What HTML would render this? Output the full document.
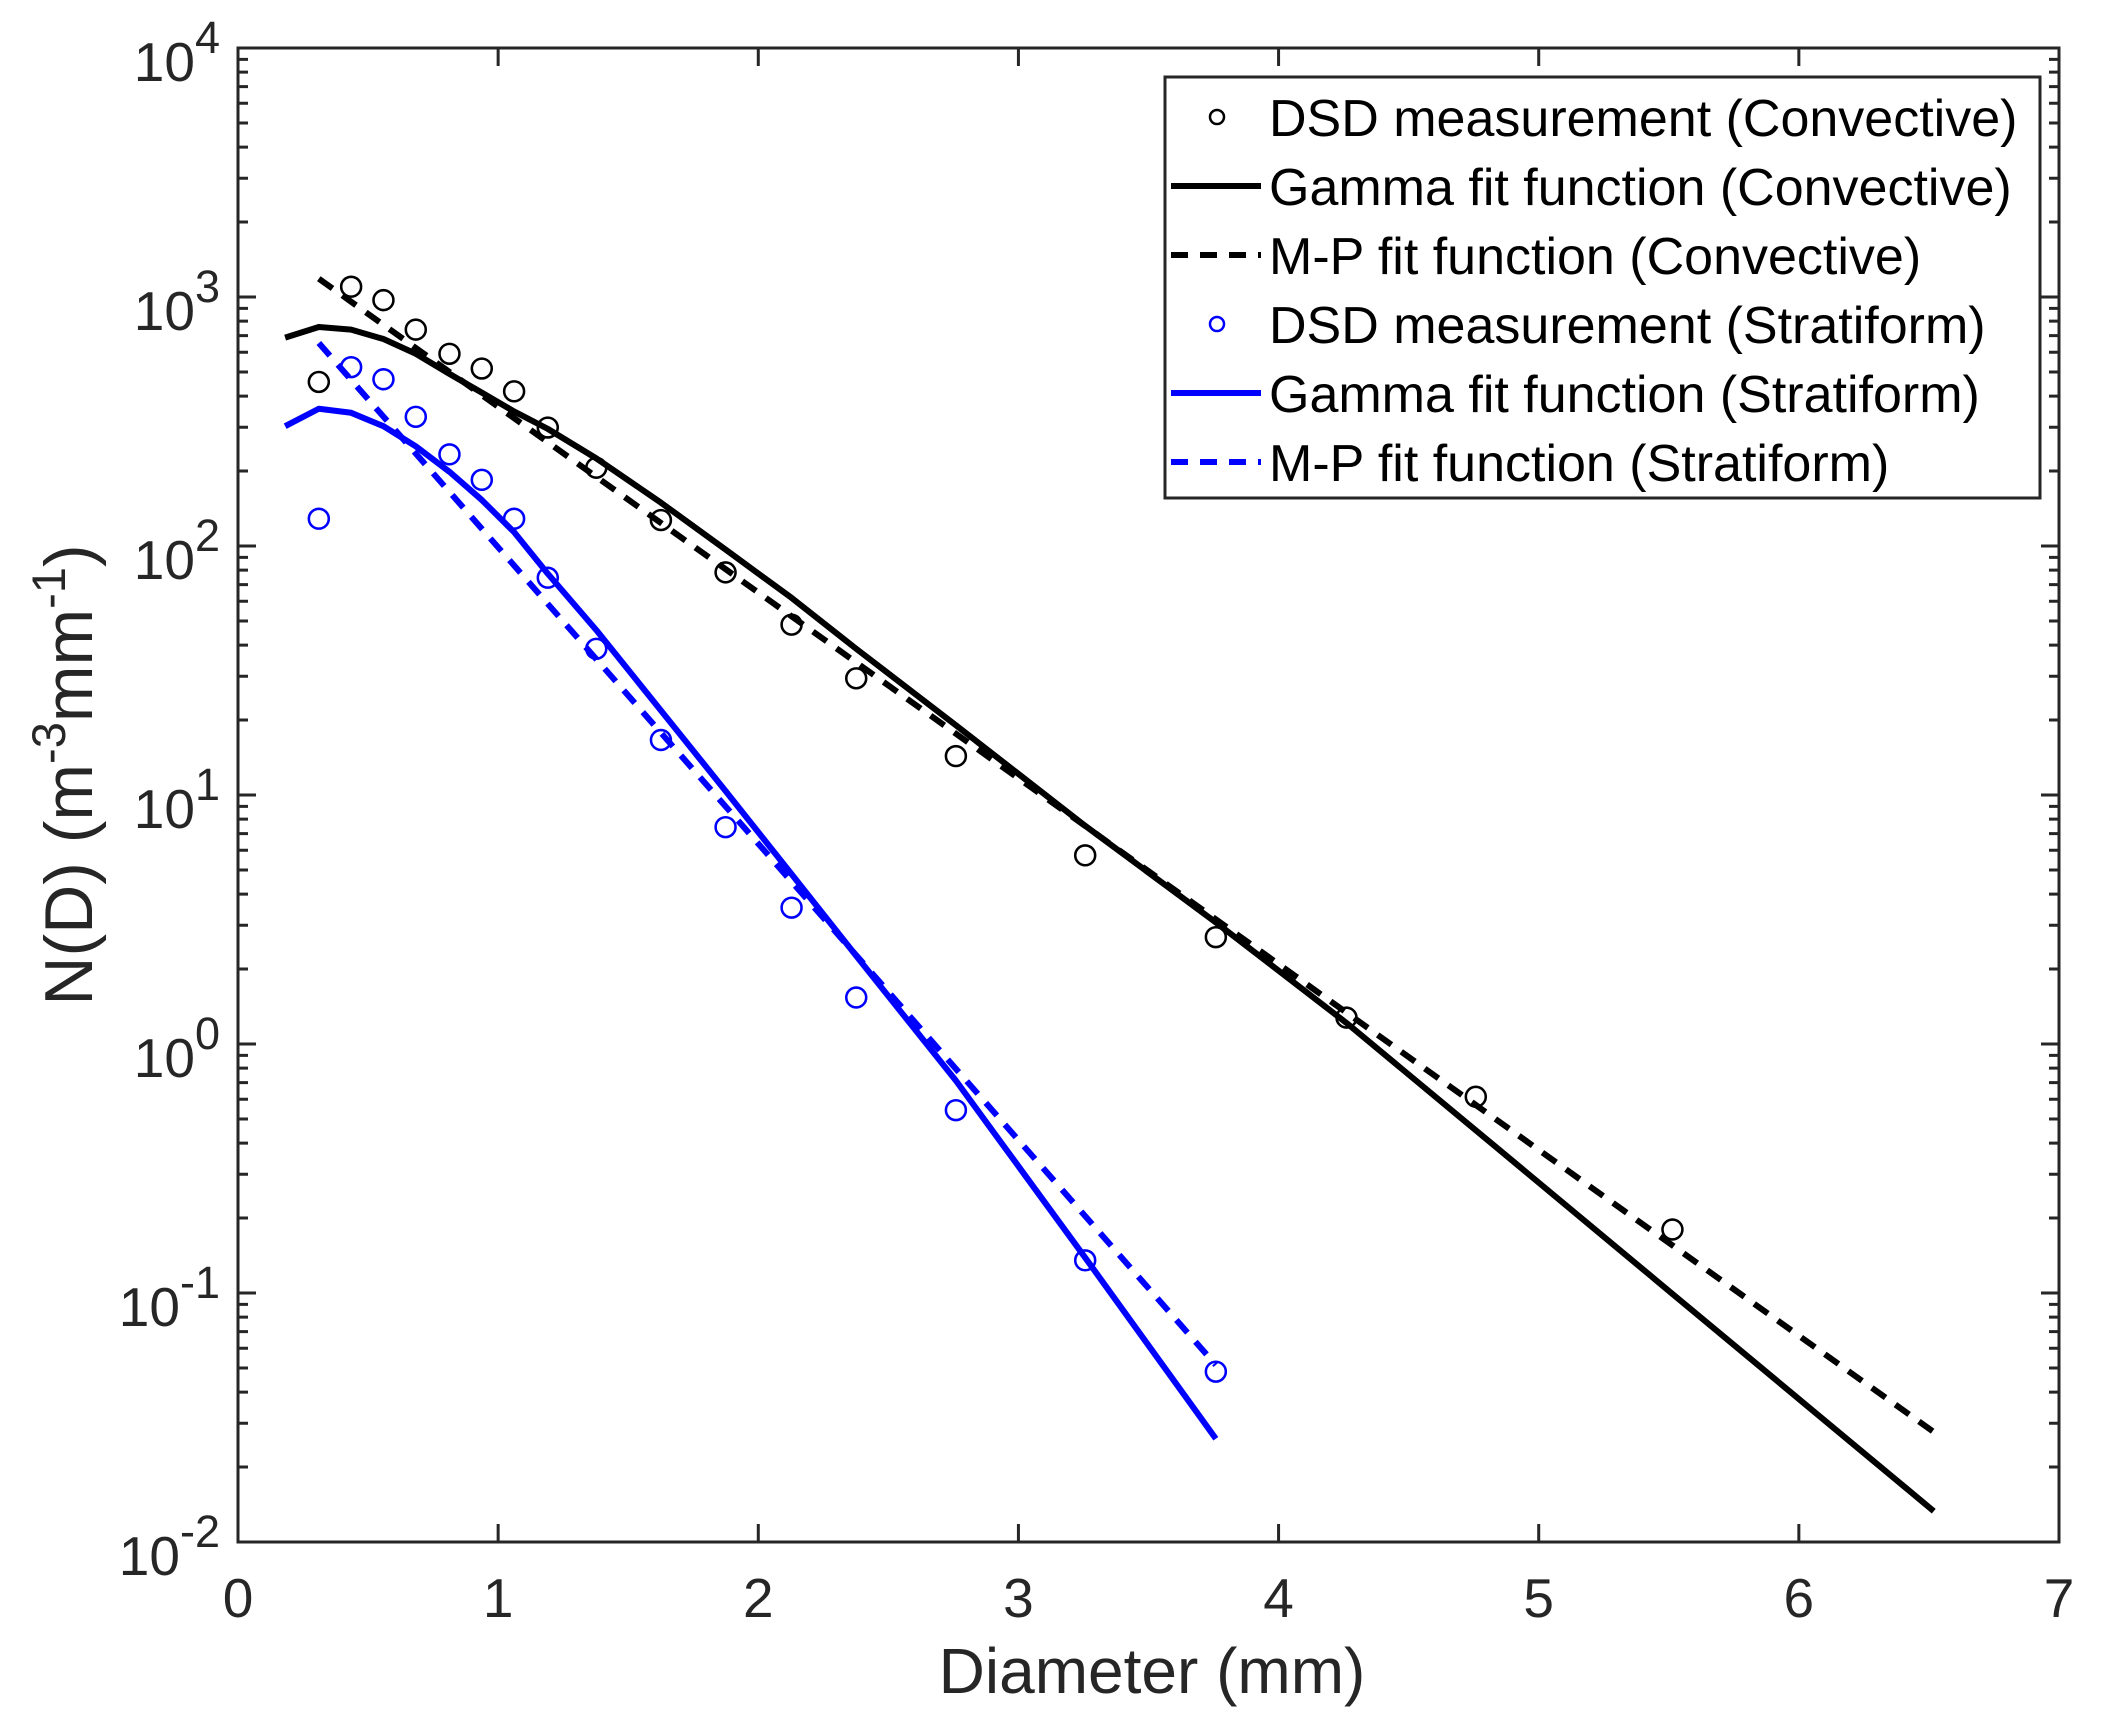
<!DOCTYPE html>
<html><head><meta charset="utf-8"><style>
html,body{margin:0;padding:0;background:#fff}
svg{display:block}
text{font-family:"Liberation Sans",Arial,sans-serif;fill:#262626}
</style></head><body>
<svg width="2104" height="1723" viewBox="0 0 2104 1723" xmlns="http://www.w3.org/2000/svg">
<rect width="2104" height="1723" fill="#fff"/>
<g id="ticks" stroke="#262626" stroke-width="3" fill="none">
<rect x="238" y="48" width="1821" height="1494"/>
<path id="tk" d=""/>
</g>
<g id="data" transform="matrix(1.3469 0 0 1.3411 -1.75 -0.28)" fill="none" stroke-linejoin="round">
<polyline stroke="#000" stroke-width="4.5" points="213,252 238,244 262,246 286,253 310,264 335,279 359,293 383,307 408,320 444,342 492,375 540,410 589,446 637,484 711,541 807,616 904,688 1001,763 1097,843 1243,965 1340,1046 1437,1127"/>
<line stroke="#000" stroke-width="4.5" stroke-dasharray="12.5,9" x1="238" y1="208" x2="1437" y2="1068"/>
<polyline stroke="#0000ff" stroke-width="4.5" points="213,318 238,305 262,308 286,318 310,333 335,352 359,373 383,397 408,428 444,470 492,530 540,590 589,652 637,713 711,806 807,938 904,1073"/>
<line stroke="#0000ff" stroke-width="4.5" stroke-dasharray="12.5,9" x1="238" y1="256" x2="904" y2="1018"/>
<g stroke="#000" stroke-width="1.9">
<circle cx="238" cy="285" r="7.4"/><circle cx="262" cy="214" r="7.4"/><circle cx="286" cy="224" r="7.4"/><circle cx="310" cy="246" r="7.4"/><circle cx="335" cy="264" r="7.4"/><circle cx="359" cy="275" r="7.4"/><circle cx="383" cy="292" r="7.4"/><circle cx="408" cy="319" r="7.4"/><circle cx="444" cy="349" r="7.4"/><circle cx="492" cy="388" r="7.4"/><circle cx="540" cy="427" r="7.4"/><circle cx="589" cy="466" r="7.4"/><circle cx="637" cy="506" r="7.4"/><circle cx="711" cy="564" r="7.4"/><circle cx="807" cy="638" r="7.4"/><circle cx="904" cy="699" r="7.4"/><circle cx="1001" cy="759" r="7.4"/><circle cx="1097" cy="818" r="7.4"/><circle cx="1243" cy="917" r="7.4"/>
</g>
<g stroke="#0000ff" stroke-width="1.9">
<circle cx="238" cy="387" r="7.4"/><circle cx="262" cy="274" r="7.4"/><circle cx="286" cy="283" r="7.4"/><circle cx="310" cy="311" r="7.4"/><circle cx="335" cy="339" r="7.4"/><circle cx="359" cy="358" r="7.4"/><circle cx="383" cy="387" r="7.4"/><circle cx="408" cy="431" r="7.4"/><circle cx="444" cy="484" r="7.4"/><circle cx="492" cy="552" r="7.4"/><circle cx="540" cy="617" r="7.4"/><circle cx="589" cy="677" r="7.4"/><circle cx="637" cy="744" r="7.4"/><circle cx="711" cy="828" r="7.4"/><circle cx="807" cy="940" r="7.4"/><circle cx="904" cy="1023" r="7.4"/>
</g>
</g>
<g id="labels" font-size="55"></g>
<!-- legend -->
<rect x="1165" y="77" width="875" height="421" fill="#fff" stroke="#262626" stroke-width="3"/>
<circle cx="1217" cy="117" r="7" fill="none" stroke="#000" stroke-width="2.5"/>
<line x1="1171" y1="186" x2="1261" y2="186" stroke="#000" stroke-width="6"/>
<line x1="1171" y1="255" x2="1261" y2="255" stroke="#000" stroke-width="6" stroke-dasharray="17,12"/>
<circle cx="1217" cy="324" r="7" fill="none" stroke="#0000ff" stroke-width="2.5"/>
<line x1="1171" y1="393" x2="1261" y2="393" stroke="#0000ff" stroke-width="6"/>
<line x1="1171" y1="462" x2="1261" y2="462" stroke="#0000ff" stroke-width="6" stroke-dasharray="17,12"/>
<g font-size="52">
<text x="1269" y="136" style="fill:#000">DSD measurement (Convective)</text>
<text x="1269" y="205" style="fill:#000">Gamma fit function (Convective)</text>
<text x="1269" y="274" style="fill:#000">M-P fit function (Convective)</text>
<text x="1269" y="343" style="fill:#000">DSD measurement (Stratiform)</text>
<text x="1269" y="412" style="fill:#000">Gamma fit function (Stratiform)</text>
<text x="1269" y="481" style="fill:#000">M-P fit function (Stratiform)</text>
</g>
<text x="1152" y="1693" font-size="64" text-anchor="middle">Diameter (mm)</text>
<text transform="translate(92,775) rotate(-90)" font-size="68" text-anchor="middle">N(D) (m<tspan font-size="47" dy="-27">-3</tspan><tspan dy="27">mm</tspan><tspan font-size="47" dy="-27">-1</tspan><tspan dy="27">)</tspan></text>
<script>
(function(){
var ns="http://www.w3.org/2000/svg";
var d="";
var L=238,R=2059,T=48,B=1542;
for(var k=0;k<=7;k++){var x=L+k*(R-L)/7;d+="M"+x+" "+B+"v-18M"+x+" "+T+"v18";}
var dec=(B-T)/6;
for(var e=-2;e<=4;e++){var y=B-(e+2)*dec;d+="M"+L+" "+y+"h18M"+R+" "+y+"h-18";
 if(e<4){for(var m=2;m<=9;m++){var yy=y-Math.log10(m)*dec;d+="M"+L+" "+yy+"h10M"+R+" "+yy+"h-10";}}}
document.getElementById("tk").setAttribute("d",d);
var g=document.getElementById("labels");
for(var k=0;k<=7;k++){var t=document.createElementNS(ns,"text");t.setAttribute("x",L+k*(R-L)/7);t.setAttribute("y",1617);t.setAttribute("text-anchor","middle");t.textContent=k;g.appendChild(t);}
for(var e=-2;e<=4;e++){var y=B-(e+2)*dec;var t=document.createElementNS(ns,"text");t.setAttribute("x",220);t.setAttribute("y",y+33);t.setAttribute("text-anchor","end");
 var a=document.createElementNS(ns,"tspan");a.textContent="10";t.appendChild(a);
 var b=document.createElementNS(ns,"tspan");b.setAttribute("font-size","45");b.setAttribute("dy","-28");b.textContent=String(e);t.appendChild(b);g.appendChild(t);}
})();
</script>
</svg>
</body></html>
